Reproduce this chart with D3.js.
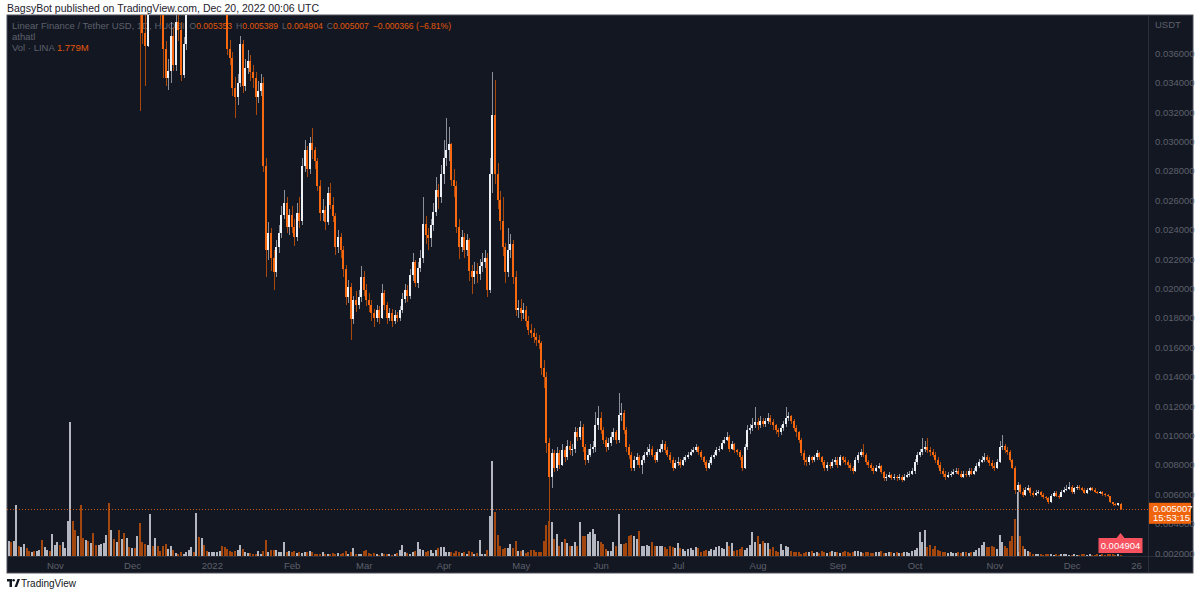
<!DOCTYPE html>
<html>
<head>
<meta charset="utf-8">
<script src="https://cdn.jsdelivr.net/npm/d3@7"></script>
<style>
  body { margin: 0; background: #ffffff; }
  svg { display: block; font-family: "Liberation Sans", Arial, sans-serif; }
</style>
</head>
<body>
<div id="chart"></div>
<script>
// LINA/USDT daily candles, Huobi, 14 Oct 2021 -> 20 Dec 2022
const startDay = new Date(Date.UTC(2021, 9, 14));
const firstOpen = 0.0690;
const lastOpen = 0.005353;   // last bar opens a touch below the previous close

const closes = [
  // Oct 2021
  0.0705,0.0698,0.0712,0.0745,0.0731,0.0752,0.0768,0.0749,0.0733,0.0741,0.0728,0.0736,0.0744,0.0712,0.0725,0.0731,0.0718,0.0739,
  // Nov 2021
  0.0748,0.0756,0.0741,0.0752,0.0760,0.0785,0.0842,0.0801,0.0772,0.0788,0.0731,0.0712,0.0725,0.0703,0.0716,0.0684,0.0671,0.0680,0.0689,0.0697,
  0.0722,0.0651,0.0668,0.0640,0.0652,0.0612,0.0628,0.0598,0.0611,0.0590,
  // Dec 2021
  0.0602,0.0575,0.0581,0.0402,0.0374,0.0365,0.0392,0.0415,0.0401,0.0408,0.0396,0.0388,0.0363,0.0343,0.0348,0.0372,0.0352,0.0381,0.0376,0.0345,
  0.0366,0.0392,0.0405,0.0418,0.0410,0.0445,0.0431,0.0442,0.0428,0.0415,0.0423,
  // Jan 2022
  0.0431,0.0440,0.0446,0.0452,0.0421,0.0398,0.0363,0.0357,0.0336,0.0330,0.0340,0.0366,0.0338,0.0350,0.0355,0.0347,0.0343,0.0330,0.0334,0.0340,
  0.0283,0.0226,0.0238,0.0221,0.0211,0.0228,0.0238,0.0250,0.0258,0.0242,0.0250,
  // Feb
  0.0242,0.0235,0.0251,0.0246,0.0283,0.0294,0.0281,0.0299,0.0294,0.0287,0.0270,0.0251,0.0253,0.0245,0.0265,0.0257,0.0249,0.0228,0.0235,0.0226,
  0.0213,0.0194,0.0201,0.0179,0.0192,0.0189,0.0194,0.0208,
  // Mar
  0.0199,0.0192,0.0189,0.0183,0.0180,0.0185,0.0180,0.0197,0.0189,0.0180,0.0183,0.0178,0.0182,0.0180,0.0185,0.0193,0.0199,0.0195,0.0209,0.0218,
  0.0204,0.0214,0.0221,0.0244,0.0236,0.0234,0.0243,0.0252,0.0267,0.0262,0.0278,
  // Apr
  0.0289,0.0294,0.0298,0.0274,0.0270,0.0242,0.0228,0.0235,0.0226,0.0233,0.0212,0.0208,0.0212,0.0210,0.0215,0.0218,0.0221,0.0199,0.0278,0.0318,
  0.0278,0.0260,0.0246,0.0228,0.0211,0.0226,0.0230,0.0208,0.0185,0.0187,
  // May
  0.0183,0.0185,0.0178,0.0172,0.0170,0.0167,0.0165,0.0163,0.0146,0.0140,0.0095,0.0072,0.0088,0.0078,0.0088,0.0080,0.0090,0.0085,0.0093,0.0090,
  0.0091,0.0102,0.0099,0.0106,0.0092,0.0083,0.0087,0.0091,0.0092,0.0107,0.0112,
  // Jun
  0.0104,0.0097,0.0092,0.0095,0.0099,0.0102,0.0097,0.0114,0.0115,0.0104,0.0092,0.0087,0.0078,0.0083,0.0085,0.0080,0.0083,0.0087,0.0089,0.0091,
  0.0087,0.0083,0.0089,0.0091,0.0094,0.0090,0.0087,0.0083,0.0078,0.0081,
  // Jul
  0.0082,0.0080,0.0083,0.0085,0.0087,0.0089,0.0090,0.0092,0.0089,0.0085,0.0082,0.0078,0.0081,0.0085,0.0087,0.0090,0.0091,0.0095,0.0097,0.0099,
  0.0091,0.0094,0.0090,0.0089,0.0085,0.0078,0.0092,0.0104,0.0105,0.0107,0.0109,
  // Aug
  0.0107,0.0110,0.0108,0.0110,0.0112,0.0109,0.0107,0.0104,0.0102,0.0105,0.0108,0.0112,0.0113,0.0110,0.0105,0.0102,0.0097,0.0088,0.0083,0.0082,
  0.0085,0.0083,0.0085,0.0088,0.0085,0.0082,0.0078,0.0080,0.0079,0.0082,0.0083,
  // Sep
  0.0080,0.0085,0.0083,0.0082,0.0080,0.0078,0.0076,0.0083,0.0087,0.0089,0.0087,0.0082,0.0080,0.0078,0.0076,0.0078,0.0079,0.0075,0.0071,0.0072,
  0.0073,0.0071,0.0072,0.0071,0.0072,0.0070,0.0072,0.0073,0.0074,0.0076,
  // Oct
  0.0082,0.0087,0.0089,0.0091,0.0092,0.0090,0.0089,0.0087,0.0083,0.0080,0.0076,0.0074,0.0072,0.0073,0.0074,0.0075,0.0076,0.0074,0.0072,0.0074,
  0.0073,0.0076,0.0074,0.0076,0.0079,0.0082,0.0083,0.0085,0.0083,0.0081,0.0079,
  // Nov
  0.0078,0.0082,0.0092,0.0093,0.0090,0.0089,0.0083,0.0078,0.0063,0.0066,0.00615,0.00595,0.00629,0.00642,0.00608,0.00595,0.00608,0.00615,0.00595,0.00581,
  0.00574,0.00547,0.00588,0.00608,0.00588,0.00581,0.00615,0.00629,0.00635,0.00649,
  // Dec
  0.00615,0.00642,0.00649,0.00642,0.00629,0.00608,0.00629,0.00642,0.00629,0.00615,0.00608,0.00615,0.00601,0.00595,0.00588,0.00547,0.00533,0.00527,0.005373,0.005007
];

const highs = [
  0.0712,0.0716,0.0720,0.0768,0.0756,0.0761,0.0785,0.0774,0.0755,0.0750,0.0746,0.0744,0.0752,0.0749,0.0731,0.0738,0.0735,0.0746,
  0.0762,0.0770,0.0765,0.0763,0.0774,0.0801,0.0912,0.0868,0.0815,0.0803,0.0796,0.0745,0.0738,0.0731,0.0727,0.0722,0.0695,0.0691,0.0700,0.0708,
  0.0746,0.0731,0.0679,0.0672,0.0663,0.0658,0.0639,0.0632,0.0620,0.0618,
  0.0614,0.0608,0.0596,0.0588,0.0421,0.0392,0.0398,0.0428,0.0421,0.0419,0.0412,0.0401,0.0394,0.0368,0.0356,0.0381,0.0378,0.0389,0.0392,0.0381,
  0.0371,0.0398,0.0412,0.0425,0.0424,0.0461,0.0452,0.0450,0.0446,0.0431,0.0429,
  0.0438,0.0447,0.0455,0.0463,0.0455,0.0426,0.0401,0.0369,0.0361,0.0344,0.0346,0.0372,0.0369,0.0356,0.0362,0.0359,0.0352,0.0347,0.0341,0.0346,
  0.0344,0.0289,0.0245,0.0241,0.0226,0.0233,0.0243,0.0256,0.0267,0.0262,0.0254,
  0.0256,0.0247,0.0258,0.0262,0.0289,0.0301,0.0297,0.0303,0.0309,0.0296,0.0289,0.0274,0.0261,0.0256,0.0269,0.0272,0.0262,0.0251,0.0240,0.0238,
  0.0229,0.0216,0.0206,0.0204,0.0195,0.0198,0.0199,0.0215,
  0.0212,0.0203,0.0197,0.0192,0.0186,0.0189,0.0188,0.0203,0.0199,0.0191,0.0187,0.0186,0.0185,0.0184,0.0188,0.0197,0.0203,0.0202,0.0213,0.0224,
  0.0219,0.0218,0.0226,0.0262,0.0249,0.0241,0.0247,0.0258,0.0276,0.0271,0.0284,
  0.0301,0.0316,0.0310,0.0299,0.0281,0.0273,0.0247,0.0240,0.0238,0.0237,0.0234,0.0216,0.0218,0.0217,0.0220,0.0224,0.0226,0.0224,0.0289,0.0347,
  0.0342,0.0285,0.0266,0.0262,0.0231,0.0241,0.0237,0.0233,0.0212,0.0192,
  0.0193,0.0190,0.0188,0.0181,0.0176,0.0173,0.0170,0.0168,0.0164,0.0151,0.0143,0.0098,0.0091,0.0090,0.0092,0.0090,0.0094,0.0092,0.0097,0.0096,
  0.0094,0.0106,0.0105,0.0110,0.0108,0.0094,0.0091,0.0094,0.0096,0.0116,0.0120,
  0.0116,0.0106,0.0099,0.0098,0.0102,0.0105,0.0104,0.0129,0.0122,0.0117,0.0106,0.0094,0.0089,0.0086,0.0088,0.0087,0.0086,0.0089,0.0092,0.0094,
  0.0093,0.0089,0.0091,0.0094,0.0097,0.0096,0.0092,0.0089,0.0085,0.0083,
  0.0085,0.0084,0.0085,0.0087,0.0089,0.0091,0.0092,0.0094,0.0093,0.0090,0.0086,0.0083,0.0083,0.0087,0.0089,0.0092,0.0093,0.0097,0.0099,0.0102,
  0.0100,0.0096,0.0095,0.0091,0.0090,0.0087,0.0094,0.0107,0.0108,0.0112,0.0119,
  0.0112,0.0113,0.0112,0.0112,0.0115,0.0114,0.0111,0.0108,0.0105,0.0107,0.0110,0.0119,0.0116,0.0114,0.0111,0.0107,0.0103,0.0098,0.0090,0.0085,
  0.0087,0.0086,0.0087,0.0090,0.0089,0.0086,0.0083,0.0082,0.0082,0.0084,0.0085,
  0.0085,0.0087,0.0086,0.0085,0.0083,0.0081,0.0079,0.0085,0.0089,0.0091,0.0094,0.0088,0.0083,0.0081,0.0079,0.0080,0.0081,0.0080,0.0076,0.0074,
  0.0075,0.0074,0.0074,0.0073,0.0074,0.0073,0.0074,0.0075,0.0076,0.0078,
  0.0084,0.0089,0.0091,0.0098,0.0096,0.0098,0.0092,0.0091,0.0089,0.0085,0.0082,0.0078,0.0076,0.0075,0.0076,0.0077,0.0078,0.0078,0.0076,0.0076,
  0.0076,0.0078,0.0078,0.0078,0.0081,0.0084,0.0086,0.0088,0.0087,0.0085,0.0083,
  0.0081,0.0084,0.0096,0.0100,0.0094,0.0092,0.0090,0.0084,0.0079,0.0068,0.0067,0.0064,0.0065,0.0066,0.0065,0.0062,0.0063,0.0063,0.0062,0.0061,
  0.0059,0.0058,0.0060,0.0062,0.0062,0.0060,0.0063,0.0065,0.0066,0.0068,
  0.0066,0.0065,0.0066,0.0066,0.0065,0.0064,0.0064,0.0065,0.0065,0.0064,0.0062,0.0062,0.0062,0.0061,0.0060,0.0059,0.0055,0.0054,0.0054,0.005389
];

const lows = [
  0.0684,0.0690,0.0693,0.0705,0.0722,0.0725,0.0745,0.0741,0.0727,0.0726,0.0720,0.0722,0.0731,0.0703,0.0705,0.0719,0.0711,0.0714,
  0.0731,0.0739,0.0733,0.0738,0.0745,0.0752,0.0779,0.0790,0.0760,0.0765,0.0722,0.0698,0.0705,0.0696,0.0699,0.0678,0.0660,0.0665,0.0677,0.0684,
  0.0690,0.0642,0.0645,0.0631,0.0636,0.0603,0.0607,0.0590,0.0593,0.0581,
  0.0581,0.0568,0.0565,0.0321,0.0366,0.0338,0.0364,0.0386,0.0392,0.0394,0.0389,0.0379,0.0343,0.0338,0.0335,0.0340,0.0348,0.0348,0.0368,0.0341,
  0.0343,0.0362,0.0386,0.0399,0.0404,0.0406,0.0425,0.0428,0.0423,0.0409,0.0411,
  0.0417,0.0425,0.0434,0.0441,0.0418,0.0392,0.0359,0.0352,0.0331,0.0316,0.0325,0.0337,0.0333,0.0334,0.0346,0.0341,0.0336,0.0318,0.0326,0.0331,
  0.0279,0.0208,0.0219,0.0212,0.0199,0.0208,0.0224,0.0234,0.0247,0.0238,0.0236,
  0.0238,0.0229,0.0232,0.0241,0.0243,0.0279,0.0276,0.0278,0.0288,0.0281,0.0266,0.0246,0.0246,0.0240,0.0243,0.0254,0.0245,0.0223,0.0224,0.0221,
  0.0208,0.0189,0.0190,0.0165,0.0176,0.0184,0.0186,0.0191,
  0.0195,0.0188,0.0184,0.0178,0.0174,0.0177,0.0176,0.0179,0.0185,0.0176,0.0178,0.0174,0.0176,0.0177,0.0178,0.0183,0.0190,0.0191,0.0193,0.0205,
  0.0201,0.0200,0.0211,0.0217,0.0230,0.0226,0.0228,0.0239,0.0249,0.0254,0.0258,
  0.0271,0.0283,0.0287,0.0270,0.0262,0.0238,0.0220,0.0225,0.0221,0.0222,0.0205,0.0196,0.0203,0.0204,0.0206,0.0211,0.0214,0.0194,0.0197,0.0265,
  0.0271,0.0254,0.0240,0.0222,0.0204,0.0208,0.0221,0.0203,0.0181,0.0180,
  0.0178,0.0179,0.0174,0.0168,0.0166,0.0163,0.0161,0.0159,0.0141,0.0132,0.0088,0.0025,0.0064,0.0075,0.0076,0.0077,0.0079,0.0082,0.0083,0.0087,
  0.0086,0.0088,0.0096,0.0097,0.0089,0.0080,0.0081,0.0085,0.0088,0.0089,0.0104,
  0.0101,0.0094,0.0089,0.0090,0.0093,0.0097,0.0094,0.0095,0.0110,0.0101,0.0089,0.0084,0.0076,0.0076,0.0080,0.0078,0.0074,0.0081,0.0085,0.0087,
  0.0085,0.0081,0.0082,0.0088,0.0089,0.0088,0.0085,0.0081,0.0076,0.0077,
  0.0079,0.0078,0.0079,0.0082,0.0084,0.0086,0.0088,0.0089,0.0087,0.0083,0.0080,0.0076,0.0077,0.0080,0.0084,0.0086,0.0089,0.0090,0.0094,0.0096,
  0.0089,0.0090,0.0088,0.0087,0.0083,0.0076,0.0077,0.0090,0.0101,0.0103,0.0105,
  0.0104,0.0105,0.0106,0.0106,0.0108,0.0107,0.0104,0.0101,0.0099,0.0100,0.0103,0.0106,0.0110,0.0108,0.0103,0.0099,0.0095,0.0086,0.0080,0.0079,
  0.0080,0.0081,0.0082,0.0083,0.0083,0.0080,0.0076,0.0076,0.0077,0.0078,0.0080,
  0.0078,0.0079,0.0081,0.0080,0.0078,0.0076,0.0074,0.0075,0.0081,0.0085,0.0085,0.0080,0.0078,0.0076,0.0074,0.0075,0.0077,0.0074,0.0069,0.0069,
  0.0071,0.0070,0.0070,0.0069,0.0070,0.0068,0.0069,0.0071,0.0072,0.0073,
  0.0074,0.0080,0.0085,0.0087,0.0089,0.0088,0.0086,0.0085,0.0081,0.0078,0.0074,0.0072,0.0070,0.0071,0.0072,0.0073,0.0074,0.0073,0.0071,0.0071,
  0.0072,0.0072,0.0073,0.0073,0.0075,0.0078,0.0081,0.0082,0.0082,0.0079,0.0077,
  0.0076,0.0077,0.0081,0.0090,0.0088,0.0087,0.0082,0.0077,0.0060,0.0021,0.0060,0.0058,0.0059,0.0062,0.0059,0.0058,0.0059,0.0060,0.0058,0.0057,
  0.0056,0.0053,0.0054,0.0058,0.0058,0.0057,0.0058,0.0061,0.0062,0.0063,
  0.0060,0.0060,0.0063,0.0063,0.0062,0.0060,0.0060,0.0062,0.0062,0.0061,0.0060,0.0060,0.0059,0.0058,0.0058,0.0054,0.0052,0.0052,0.0052,0.004904
];

// volume, millions of LINA
const volumes = [
  31,29,30,103,21,18,24,16,11,8,10,11,13,33,18,13,11,45,
  23,28,23,29,16,71,268,71,53,41,103,36,32,30,26,46,23,23,24,27,43,106,53,35,29,53,35,47,37,18,
  16,16,40,67,28,25,23,84,21,37,21,11,20,25,15,21,12,7,5,8,5,8,13,18,9,87,38,36,23,11,8,
  8,8,9,11,21,18,15,11,8,11,13,23,15,9,6,6,5,5,11,5,11,33,9,13,13,13,8,9,29,9,11,
  9,11,7,9,6,9,8,11,9,5,5,5,8,4,5,5,6,5,7,4,7,10,5,9,16,5,5,5,
  11,13,6,5,7,4,3,7,5,4,4,3,4,7,13,23,8,7,4,9,11,28,15,13,8,10,13,7,13,16,19,
  18,9,8,8,6,11,9,6,8,5,11,9,4,6,33,5,5,13,81,191,88,43,20,15,16,16,25,16,31,11,
  11,13,6,8,13,13,8,8,9,31,62,70,68,35,45,21,28,35,27,21,21,28,21,69,40,41,45,49,55,45,31,
  28,25,15,11,10,28,21,85,25,25,27,40,43,41,35,50,21,21,23,21,29,20,21,20,21,18,15,21,18,16,
  27,16,15,11,15,16,13,18,16,9,11,13,11,15,13,18,20,16,15,28,21,27,11,13,15,18,13,16,23,49,29,
  41,25,31,27,26,15,18,11,9,25,13,21,18,11,8,9,8,5,7,8,8,10,7,9,6,10,8,7,9,11,8,
  9,7,8,10,8,6,9,11,10,8,7,9,8,6,7,9,8,10,7,6,8,9,7,8,6,7,9,8,7,10,
  12,16,48,28,52,18,22,14,21,12,10,8,9,7,8,7,6,8,7,9,8,7,8,9,12,16,22,28,18,18,21,
  18,15,43,28,21,17,31,41,75,128,41,21,15,11,8,5,4,4,5,3,4,5,4,3,4,3,4,5,4,3,
  3,4,3,3,4,5,3,4,3,3,4,3,4,3,4,5,4,3,4,1.779
];

const priceTicks = [0.002,0.004,0.006,0.008,0.010,0.012,0.014,0.016,0.018,0.020,0.022,0.024,0.026,0.028,0.030,0.032,0.034,0.036];
const timeTicks = ["2021-11-01","2021-12-01","2022-01-01","2022-02-01","2022-03-01","2022-04-01","2022-05-01","2022-06-01",
                   "2022-07-01","2022-08-01","2022-09-01","2022-10-01","2022-11-01","2022-12-01","2022-12-26"];
const timeLabels = ["Nov","Dec","2022","Feb","Mar","Apr","May","Jun","Jul","Aug","Sep","Oct","Nov","Dec","26"];

const lowLabel = 0.004904;

// colours
const bg = "#131722", line = "#2a2e39", txt = "#5d606b";
const upBody = "#eceff4", upWick = "#8b8f99", upVol = "#b4b7bf";
const dnBody = "#f7680f", dnWick = "#a9470c", dnVol = "#a4470f";
const legendOrange = "#e2580b";

const width = 1200, height = 594;
const plot = {left: 7, right: 1148, top: 15, bottom: 556};

const svg = d3.select("#chart").append("svg")
    .attr("width", width)
    .attr("height", height);

svg.append("rect").attr("width", width).attr("height", height).attr("fill", "#ffffff");

// header
svg.append("text")
    .attr("x", 7).attr("y", 12)
    .attr("font-size", 10.5).attr("fill", "#1e222d")
    .text("BagsyBot published on TradingView.com, Dec 20, 2022 00:06 UTC");

// chart panel
svg.append("rect")
    .attr("x", 7).attr("y", 15).attr("width", 1186).attr("height", 558)
    .attr("fill", bg).attr("stroke", "#50535e").attr("stroke-width", 1);

// scales
const days = closes.map((c, i) => d3.utcDay.offset(startDay, i));
const opens = closes.map((c, i) => i === 0 ? firstOpen : closes[i - 1]);
opens[opens.length - 1] = lastOpen;

const x = d3.scaleUtc()
    .domain([days[0], days[days.length - 1]])
    .range([8.5, 1120.5]);

const y = d3.scaleLinear()
    .domain([0.002, 0.036])
    .range([553, 53.2]);

const yVol = d3.scaleLinear()
    .domain([0, d3.max(volumes)])
    .range([plot.bottom, plot.bottom - 134]);

const bars = closes.map((c, i) => ({
  date: days[i], open: opens[i], close: c, high: highs[i], low: lows[i], vol: volumes[i], up: c >= opens[i]
}));

// legend (candles are drawn over it, as in the original)
const last = bars[bars.length - 1];
const prevClose = closes[closes.length - 2];
const chg = last.close - prevClose;
const fmt6 = d3.format(".6f");
const leg = svg.append("g").attr("font-size", 9.5);

const nameText = leg.append("text").attr("x", 12).attr("y", 29).attr("fill", txt)
    .text("Linear Finance / Tether USD, 1D, HUOBI");

// lay the OHLC groups one after the other so they never collide
let cursor = 12 + nameText.node().getComputedTextLength() + 5;
const ohlc = [["O", last.open], ["H", last.high], ["L", last.low], ["C", last.close]];
ohlc.forEach(([k, v]) => {
  const t = leg.append("text").attr("x", cursor).attr("y", 29).attr("font-size", 8.6);
  t.append("tspan").attr("fill", txt).text(k);
  t.append("tspan").attr("fill", legendOrange).text(fmt6(v));
  cursor += t.node().getComputedTextLength() + 4;
});
leg.append("text").attr("x", cursor).attr("y", 29).attr("font-size", 8.6).attr("fill", legendOrange)
    .text("\u2212" + fmt6(Math.abs(chg)) + " (\u2212" + d3.format(".2f")(Math.abs(chg / prevClose * 100)) + "%)");

leg.append("text").attr("x", 12).attr("y", 40).attr("fill", txt).text("athatl");

const l3 = leg.append("text").attr("x", 12).attr("y", 51);
l3.append("tspan").attr("fill", txt).text("Vol \u00b7 LINA  ");
l3.append("tspan").attr("fill", legendOrange).text(d3.format(".3f")(last.vol) + "M");

svg.append("clipPath").attr("id", "plotClip")
  .append("rect")
    .attr("x", plot.left).attr("y", plot.top)
    .attr("width", plot.right - plot.left).attr("height", plot.bottom - plot.top);

const g = svg.append("g").attr("clip-path", "url(#plotClip)").attr("shape-rendering", "crispEdges");

// volume
g.append("g").selectAll("rect")
  .data(bars)
  .join("rect")
    .attr("x", d => Math.round(x(d.date)) - 1)
    .attr("width", 2)
    .attr("y", d => yVol(d.vol))
    .attr("height", d => Math.max(1, plot.bottom - yVol(d.vol)))
    .attr("fill", d => d.up ? upVol : dnVol);

// wicks
g.append("g").selectAll("rect")
  .data(bars)
  .join("rect")
    .attr("x", d => Math.round(x(d.date)) - 0.5)
    .attr("width", 1)
    .attr("y", d => y(d.high))
    .attr("height", d => Math.max(1, y(d.low) - y(d.high)))
    .attr("fill", d => d.up ? upWick : dnWick);

// bodies
g.append("g").selectAll("rect")
  .data(bars)
  .join("rect")
    .attr("x", d => Math.round(x(d.date)) - 1)
    .attr("width", 2)
    .attr("y", d => y(Math.max(d.open, d.close)))
    .attr("height", d => Math.max(1, Math.abs(y(d.open) - y(d.close))))
    .attr("fill", d => d.up ? upBody : dnBody);

// last price line
svg.append("line")
    .attr("x1", plot.left).attr("x2", plot.right)
    .attr("y1", Math.round(y(last.close)) + 0.5).attr("y2", Math.round(y(last.close)) + 0.5)
    .attr("stroke", dnBody).attr("stroke-opacity", 0.8)
    .attr("stroke-dasharray", "1,2");

// separators
svg.append("line").attr("x1", plot.right + 0.5).attr("x2", plot.right + 0.5)
    .attr("y1", 15).attr("y2", 573).attr("stroke", line);
svg.append("line").attr("x1", 7).attr("x2", 1193)
    .attr("y1", plot.bottom + 0.5).attr("y2", plot.bottom + 0.5).attr("stroke", line);

// price axis
const yAxis = d3.axisRight(y)
    .tickValues(priceTicks)
    .tickSize(0)
    .tickPadding(7)
    .tickFormat(fmt6);

const ya = svg.append("g")
    .attr("transform", `translate(${plot.right},0)`)
    .call(yAxis);
ya.select(".domain").remove();
ya.selectAll("text").attr("fill", txt).attr("font-size", 9.5)
    .attr("font-family", "Liberation Sans, Arial, sans-serif");

svg.append("text").attr("x", 1155).attr("y", 28)
    .attr("font-size", 9.5).attr("fill", txt).text("USDT");

// time axis
const parseDay = d3.utcParse("%Y-%m-%d");
const xAxis = d3.axisBottom(x)
    .tickValues(timeTicks.map(parseDay))
    .tickSize(0)
    .tickPadding(6)
    .tickFormat((d, i) => timeLabels[i]);

const xa = svg.append("g")
    .attr("transform", `translate(0,${plot.bottom})`)
    .call(xAxis);
xa.select(".domain").remove();
xa.selectAll("text").attr("fill", txt).attr("font-size", 9.5)
    .attr("font-family", "Liberation Sans, Arial, sans-serif");

// last price tag on the axis
const ly = y(last.close);
svg.append("rect")
    .attr("x", plot.right + 1).attr("y", ly - 6).attr("width", 42).attr("height", 21)
    .attr("fill", "#f0640c");
svg.append("text").attr("x", plot.right + 5).attr("y", ly + 3)
    .attr("font-size", 9.5).attr("fill", "#ffffff").text(fmt6(last.close));
svg.append("text").attr("x", plot.right + 5).attr("y", ly + 12.5)
    .attr("font-size", 9.5).attr("fill", "#ffffff").text("15:53:15");

// low marker tag
const lx = x(last.date);
svg.append("path")
    .attr("d", `M${lx - 22},538 H${lx - 4} L${lx},533 L${lx + 4},538 H${lx + 22} V553 H${lx - 22} Z`)
    .attr("fill", "#f7525f");
svg.append("text").attr("x", lx).attr("y", 549)
    .attr("text-anchor", "middle").attr("font-size", 9.5).attr("fill", "#ffffff")
    .text(fmt6(lowLabel));

// footer logo + name
const logo = svg.append("g").attr("transform", "translate(7,579)").attr("fill", "#131722");
logo.append("path").attr("d", "M0,0 H5 V8 H2.5 V2.5 H0 Z");
logo.append("circle").attr("cx", 6.6).attr("cy", 1.3).attr("r", 1.3);
logo.append("path").attr("d", "M7.5,8 L10.5,0 H13 L10,8 Z");
svg.append("text").attr("x", 21).attr("y", 587)
    .attr("font-size", 10).attr("fill", "#131722").text("TradingView");
</script>
</body>
</html>
